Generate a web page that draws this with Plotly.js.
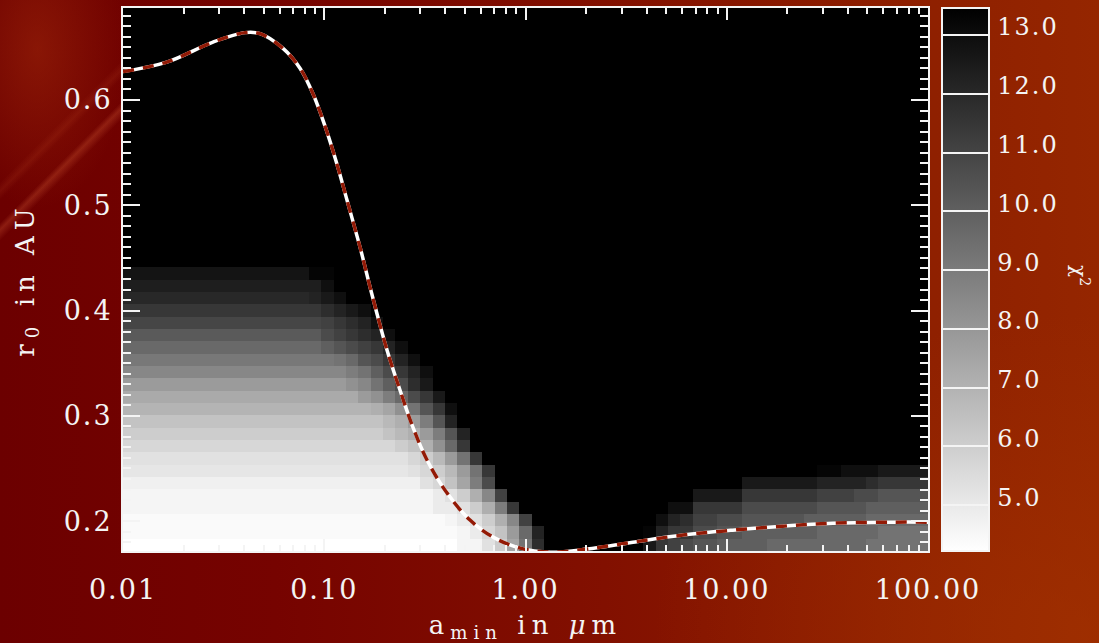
<!DOCTYPE html>
<html>
<head>
<meta charset="utf-8">
<script src="https://cdn.plot.ly/plotly-3.0.1.min.js"></script>
<style>
  html, body { margin: 0; padding: 0; background: #760400; }
  #wrap {
    position: relative; width: 1099px; height: 643px; overflow: hidden;
    background:
      radial-gradient(ellipse 55% 70% at 98% 98%, rgba(165, 52, 0, 0.55), rgba(165, 52, 0, 0) 70%),
      linear-gradient(90deg, #6c0000 0%, #760300 25%, #821000 55%, #8d1e00 80%, #952600 100%);
  }
  #glow {
    position: absolute; left: 0; top: 0; width: 125px; height: 330px;
    background:
      linear-gradient(135deg, rgba(0,0,0,0) 49%, rgba(215, 95, 55, 0.30) 50.5%, rgba(0,0,0,0) 53%),
      linear-gradient(135deg, rgba(0,0,0,0) 40%, rgba(200, 80, 40, 0.15) 42%, rgba(0,0,0,0) 44%),
      radial-gradient(ellipse 90% 60% at 30% 15%, rgba(160, 40, 10, 0.55), rgba(160, 40, 10, 0) 80%);
  }
  #chart { position: absolute; left: 0; top: 0; width: 1099px; height: 643px; }
  .xtick text, .ytick text, .colorbar text { letter-spacing: 2px; }
  .xtitle { letter-spacing: 6px; }
  .ytitle { letter-spacing: 6px; }
</style>
</head>
<body>
<div id="wrap">
  <div id="glow"></div>
  <div id="chart"></div>
</div>
<script>
// Axis ticks and ranges
const A_MIN_TICKS = [0.01, 0.1, 1, 10, 100];
const A_MIN_TICK_TEXT = ['0.01', '0.10', '1.00', '10.00', '100.00'];
const A_MIN_LOG_RANGE = [-2, 2];          // log10(a_min / um)
const R0_TICKS = [0.2, 0.3, 0.4, 0.5, 0.6];
const R0_RANGE = [0.1716, 0.6874];        // AU
const CHI2_TICKS = [5, 6, 7, 8, 9, 10, 11, 12, 13];
const CHI2_RANGE = [4.22, 13.46];

// chi^2 level codes used in the grid rows below ('.' = above the scale)
const LEVEL_KEYS = 'aAbBcCdDeEfFgGhHiIjJkKlLmMnNoOpPqQrRsStTuUvVwWxXyYzZ.';
const LEVEL_CHI2 = [4.22, 4.40, 4.58, 4.76, 4.94, 5.13, 5.31, 5.49, 5.67, 5.85,
                    6.03, 6.21, 6.39, 6.58, 6.76, 6.94, 7.12, 7.30, 7.48, 7.66,
                    7.84, 8.02, 8.21, 8.39, 8.57, 8.75, 8.93, 9.11, 9.29, 9.47,
                    9.66, 9.84, 10.02, 10.20, 10.38, 10.56, 10.74, 10.92, 11.10, 11.29,
                    11.47, 11.65, 11.83, 12.01, 12.19, 12.37, 12.55, 12.74, 12.92, 13.10,
                    13.28, 13.46, 14.0];

// chi^2 grid, run-length coded, one row per r0 bin from the bottom up
const CHI2_ROWS = [
  'a27 b2 d f j o v .8 x u t s r2 q4 p8 o5',
  'A27 b c e g k p w .8 z w u2 s2 r2 q6 p5 o4',
  'A26 b c d f i m t .10 y w v t2 s2 r5 q5 p5',
  'b25 c2 d f i n u .12 y2 u4 s6 r4 q5',
  'b25 c d f i m t .15 x4 u6 t3 s2 r4',
  'B24 d e g j n s .20 x6 w4 v u4',
  'C23 d e f h k o u .26 z2 y3 x4',
  'd23 e f h k o u .36',
  'e22 f g i l p u .37',
  'f21 g h i k n r w .37',
  'g21 h i k n r w .38',
  'H20 i j l o r u y .38',
  'I19 k l n p s u x .39',
  'k18 l m o q s v x .40',
  'm18 n o q s u w y .40',
  'N17 o p r s u w y .41',
  'p16 q r s t u w y .42',
  'Q16 s t u v w y .43',
  'S16 t u v w y .44',
  'u16 v w x y .45',
  'V15 w x y .47',
  'W16 y .48',
  'X15 z2 .48',
  '.65', '.65', '.65', '.65', '.65', '.65', '.65',
  '.65', '.65', '.65', '.65', '.65', '.65', '.65',
  '.65', '.65', '.65', '.65', '.65', '.65', '.65'
];

// Best-fit r0 as a function of a_min
const CURVE_A_MIN = [0.01, 0.0165, 0.028, 0.0404, 0.048, 0.0624, 0.0759, 0.0879, 0.101,
                     0.1153, 0.1297, 0.1519, 0.1687, 0.205, 0.2378, 0.276, 0.324, 0.4076,
                     0.53, 0.69, 0.94, 1.324, 2.02, 3.42, 6.06, 10.7, 19.0, 33.7, 67, 100];
const CURVE_R0 = [0.627, 0.636, 0.655, 0.664, 0.663, 0.649, 0.630, 0.606, 0.575,
                  0.540, 0.505, 0.4575, 0.4226, 0.3625, 0.3245, 0.289, 0.258, 0.2266,
                  0.201, 0.1848, 0.1743, 0.1705, 0.1734, 0.180, 0.1867, 0.1914, 0.1952,
                  0.198, 0.199, 0.199];

function decodeRow(code) {
  const out = [];
  code.trim().split(/\s+/).forEach(tok => {
    const v = LEVEL_CHI2[LEVEL_KEYS.indexOf(tok[0])];
    const n = tok.length > 1 ? parseInt(tok.slice(1), 10) : 1;
    for (let i = 0; i < n; i++) out.push(v);
  });
  return out;
}

const z = CHI2_ROWS.map(decodeRow);
const nCols = z[0].length;
const nRows = z.length;
z.forEach((r, j) => { if (r.length !== nCols) console.warn('row', j, 'has', r.length, 'cells'); });

// cell edges of the (log a_min, r0) grid
const xEdges = Array.from({ length: nCols + 1 }, (_, i) =>
  Math.pow(10, A_MIN_LOG_RANGE[0] + (A_MIN_LOG_RANGE[1] - A_MIN_LOG_RANGE[0]) * i / nCols));
const yEdges = Array.from({ length: nRows + 1 }, (_, j) =>
  R0_RANGE[0] + (R0_RANGE[1] - R0_RANGE[0]) * j / nRows);

// minor log ticks at 2..9 of each decade
const xMinor = [];
for (let d = A_MIN_LOG_RANGE[0]; d < A_MIN_LOG_RANGE[1]; d++) {
  for (let m = 2; m <= 9; m++) xMinor.push(m * Math.pow(10, d));
}

const INK = '#f4f4f4';
const SERIF = 'DejaVu Serif, Liberation Serif, serif';

const heat = {
  type: 'heatmap',
  x: xEdges, y: yEdges, z: z,
  zmin: CHI2_RANGE[0], zmax: CHI2_RANGE[1],
  colorscale: [[0, '#ffffff'], [1, '#000000']],
  zsmooth: false,
  hoverinfo: 'skip',
  colorbar: {
    x: 1.0174, xanchor: 'left', xpad: 0,
    y: 0.5, yanchor: 'middle', ypad: 0,
    len: 1, lenmode: 'fraction',
    thickness: 47, thicknessmode: 'pixels',
    outlinecolor: INK, outlinewidth: 2,
    ticks: 'inside', ticklen: 47, tickwidth: 2, tickcolor: INK,
    tickmode: 'array', tickvals: CHI2_TICKS, tickformat: '.1f',
    tickfont: { family: SERIF, size: 24, color: INK }
  }
};

const curveBase = {
  type: 'scatter', mode: 'lines',
  x: CURVE_A_MIN, y: CURVE_R0,
  line: { color: '#ffffff', width: 3.5, shape: 'spline' },
  hoverinfo: 'skip', showlegend: false
};
const curveDash = {
  type: 'scatter', mode: 'lines',
  x: CURVE_A_MIN, y: CURVE_R0,
  line: { color: '#931a06', width: 3.5, dash: '11px,9px', shape: 'spline' },
  hoverinfo: 'skip', showlegend: false
};

const axisCommon = {
  ticks: 'inside', tickwidth: 2, tickcolor: INK,
  showline: true, linecolor: INK, linewidth: 2, mirror: 'allticks',
  showgrid: false, zeroline: false,
  tickfont: { family: SERIF, size: 27, color: INK }
};

const layout = {
  width: 1099, height: 643,
  margin: { l: 123, r: 171, t: 8, b: 92, autoexpand: false },
  paper_bgcolor: 'rgba(0,0,0,0)',
  plot_bgcolor: '#000000',
  showlegend: false,
  xaxis: Object.assign({}, axisCommon, {
    type: 'log', range: A_MIN_LOG_RANGE,
    tickmode: 'array', tickvals: A_MIN_TICKS, ticktext: A_MIN_TICK_TEXT,
    ticklen: 12,
    ticklabelstandoff: 14,
    minor: { tickmode: 'array', tickvals: xMinor, ticks: 'inside', ticklen: 6, tickwidth: 2, tickcolor: INK, showgrid: false },
    title: { text: 'a<sub>min</sub> in <i>μ</i>m', font: { family: SERIF, size: 26, color: INK }, standoff: 13 }
  }),
  yaxis: Object.assign({}, axisCommon, {
    range: R0_RANGE,
    tickmode: 'array', tickvals: R0_TICKS, tickformat: '.1f',
    ticklen: 17,
    ticklabelstandoff: 3,
    minor: { dtick: 0.01, tick0: 0, ticks: 'inside', ticklen: 8, tickwidth: 2, tickcolor: INK, showgrid: false },
    title: { text: 'r<sub>0</sub> in AU', font: { family: SERIF, size: 26, color: INK }, standoff: 22 }
  }),
  annotations: [{
    text: 'χ<sup>2</sup>', textangle: 90, showarrow: false,
    xref: 'paper', yref: 'paper', x: 1.1888, y: 0.5064,
    xanchor: 'center', yanchor: 'middle',
    font: { family: SERIF, size: 20, color: INK }
  }]
};

Plotly.newPlot('chart', [heat, curveBase, curveDash], layout, { displayModeBar: false, staticPlot: true })
  .then(() => {
    // colour-bar labels sit just above their level lines
    document.querySelectorAll('#chart g.colorbar text').forEach(t => {
      if (!/^\d+\.\d$/.test(t.textContent.trim())) return;
      const tr = t.getAttribute('transform') || '';
      t.setAttribute('transform', (tr + ' translate(2,-8)').trim());
    });
  });
</script>
</body>
</html>
